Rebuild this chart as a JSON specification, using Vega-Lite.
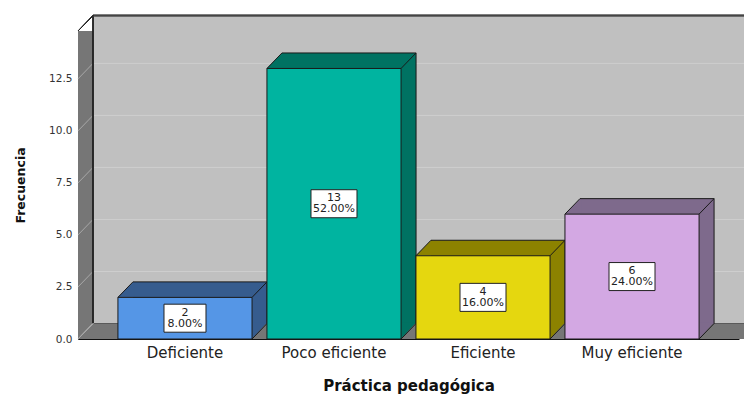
{
  "$schema": "https://vega.github.io/schema/vega-lite/v6.json",
  "width": 661,
  "height": 308,
  "autosize": "none",
  "padding": {"left": 78, "top": 31, "right": 5, "bottom": 57},
  "background": "white",
  "view": {"stroke": null},
  "config": {
    "font": "DejaVu Sans",
    "axisX": {
      "labelFont": "DejaVu Sans", "labelFontSize": 15, "labelColor": "#222222", "labelAngle": 0,
      "labelAlign": "center", "bandPosition": 0.5, "labelPadding": 6, "ticks": false,
      "domainColor": "#111111", "titleFont": "DejaVu Sans", "titleFontSize": 15,
      "titleFontWeight": "bold", "titleColor": "#111111", "titlePadding": 18
    },
    "axisY": {
      "labelFont": "DejaVu Sans", "labelFontSize": 10.5, "labelColor": "#333333", "labelPadding": 6,
      "ticks": false, "grid": false, "domainColor": "#111111",
      "titleFont": "DejaVu Sans", "titleFontSize": 12.5, "titleFontWeight": "bold",
      "titleColor": "#111111", "titlePadding": 21
    }
  },
  "datasets": {
    "practica": [
      {"nivel": "Deficiente", "n": 2, "pct": 8},
      {"nivel": "Poco eficiente", "n": 13, "pct": 52},
      {"nivel": "Eficiente", "n": 4, "pct": 16},
      {"nivel": "Muy eficiente", "n": 6, "pct": 24}
    ],
    "grid": [{"v": 2.5}, {"v": 5}, {"v": 7.5}, {"v": 10}, {"v": 12.5}]
  },
  "data": {"name": "practica"},
  "resolve": {"scale": {"fill": "independent"}},
  "layer": [
    {
      "description": "left wall and floor",
      "mark": {"type": "rect", "fill": "#767676"},
      "encoding": {
        "x": {"value": 0},
        "x2": {"value": {"expr": "width + 20"}},
        "y": {"datum": 14.8, "scale": {"domain": [0, 14.8], "nice": false},
              "axis": {"title": "Frecuencia", "values": [0, 2.5, 5, 7.5, 10, 12.5], "format": ".1f"}},
        "y2": {"datum": 0}
      }
    },
    {
      "description": "back wall",
      "mark": {"type": "rect", "fill": "#c0c0c0", "yOffset": -15.5, "y2Offset": -15.5},
      "encoding": {
        "x": {"value": 15},
        "x2": {"value": {"expr": "width + 20"}},
        "y": {"datum": 14.8},
        "y2": {"datum": 0}
      }
    },
    {
      "description": "corner above the left wall",
      "mark": {"type": "point", "filled": true, "fill": "white", "opacity": 1, "strokeWidth": 0,
               "shape": "M -1 -1 L 1.05 -1 L -1 1.05 Z", "size": 240, "xOffset": 7.5, "yOffset": -8},
      "encoding": {"x": {"value": 0}, "y": {"datum": 14.8}}
    },
    {
      "description": "back wall gridlines",
      "data": {"name": "grid"},
      "mark": {"type": "rule", "stroke": "#cecece", "strokeWidth": 1, "yOffset": -15.5},
      "encoding": {
        "x": {"value": 15},
        "x2": {"value": {"expr": "width + 20"}},
        "y": {"field": "v", "type": "quantitative"}
      }
    },
    {
      "description": "left wall gridlines",
      "data": {"name": "grid"},
      "mark": {"type": "rule", "stroke": "#a8a8a8", "strokeWidth": 1, "y2Offset": -15.5},
      "encoding": {
        "x": {"value": 0},
        "x2": {"value": 15},
        "y": {"field": "v", "type": "quantitative"},
        "y2": {"field": "v"}
      }
    },
    {
      "description": "wall edges",
      "mark": {"type": "rule", "stroke": "#222222", "strokeWidth": 1, "yOffset": -15.5, "y2Offset": -15.5},
      "encoding": {"x": {"value": 15}, "y": {"datum": 14.8}, "y2": {"datum": 0}}
    },
    {
      "mark": {"type": "rule", "stroke": "#444444", "strokeWidth": 1.5, "yOffset": -15.5},
      "encoding": {"x": {"value": 15}, "x2": {"value": {"expr": "width + 20"}}, "y": {"datum": 14.8}}
    },
    {
      "mark": {"type": "rule", "stroke": "#5a5a5a", "strokeWidth": 1, "yOffset": -15.5},
      "encoding": {"x": {"value": 15}, "x2": {"value": {"expr": "width + 20"}}, "y": {"datum": 0}}
    },
    {
      "mark": {"type": "rule", "stroke": "#222222", "strokeWidth": 1, "y2Offset": -15.5},
      "encoding": {"x": {"value": 0}, "x2": {"value": 15}, "y": {"datum": 14.8}, "y2": {"datum": 14.8}}
    },
    {
      "mark": {"type": "rule", "stroke": "#a8a8a8", "strokeWidth": 1, "y2Offset": -15.5},
      "encoding": {"x": {"value": 0}, "x2": {"value": 15}, "y": {"datum": 0}, "y2": {"datum": 0}}
    },
    {
      "description": "bar depth: top and side faces",
      "mark": {"type": "bar", "xOffset": 15, "yOffset": -15.5, "y2Offset": -15.5},
      "encoding": {
        "x": {"field": "nivel", "type": "nominal", "sort": null, "title": "Práctica pedagógica",
              "scale": {"paddingInner": 0.1, "paddingOuter": 0.268}},
        "y": {"field": "n", "type": "quantitative"},
        "y2": {"datum": 0},
        "fill": {"field": "nivel", "type": "nominal", "legend": null,
                 "scale": {"domain": ["Deficiente", "Poco eficiente", "Eficiente", "Muy eficiente"],
                           "range": ["#365c8e", "#007262", "#8c8200", "#7e6a8c"]}}
      }
    },
    {
      "mark": {"type": "point", "filled": true, "opacity": 1, "strokeWidth": 0,
               "shape": "M -1 1 L 1 -1 L 1.15 -1 L 1.15 1 Z", "size": 240, "xOffset": 7.5, "yOffset": -7.75},
      "encoding": {
        "x": {"field": "nivel", "type": "nominal", "sort": null, "bandPosition": 0},
        "y": {"field": "n", "type": "quantitative"},
        "fill": {"field": "nivel", "type": "nominal", "legend": null,
                 "scale": {"domain": ["Deficiente", "Poco eficiente", "Eficiente", "Muy eficiente"],
                           "range": ["#365c8e", "#007262", "#8c8200", "#7e6a8c"]}}
      }
    },
    {
      "mark": {"type": "point", "filled": true, "opacity": 1, "strokeWidth": 0,
               "shape": "M -1 1 L -1 -1.15 L 1 -1.15 Z", "size": 240, "xOffset": 7.5, "yOffset": -7.75},
      "encoding": {
        "x": {"field": "nivel", "type": "nominal", "sort": null, "bandPosition": 1},
        "y": {"datum": 0},
        "fill": {"field": "nivel", "type": "nominal", "legend": null,
                 "scale": {"domain": ["Deficiente", "Poco eficiente", "Eficiente", "Muy eficiente"],
                           "range": ["#365c8e", "#007262", "#8c8200", "#7e6a8c"]}}
      }
    },
    {
      "description": "bar edges in depth",
      "mark": {"type": "rule", "stroke": "#1a1a1a", "strokeWidth": 1, "xOffset": 15, "x2Offset": 15, "yOffset": -15.5},
      "encoding": {
        "x": {"field": "nivel", "type": "nominal", "sort": null, "bandPosition": 0},
        "x2": {"field": "nivel", "bandPosition": 1},
        "y": {"field": "n", "type": "quantitative"}
      }
    },
    {
      "mark": {"type": "rule", "stroke": "#1a1a1a", "strokeWidth": 1, "xOffset": 15, "yOffset": -15.5, "y2Offset": -15.5},
      "encoding": {
        "x": {"field": "nivel", "type": "nominal", "sort": null, "bandPosition": 1},
        "y": {"field": "n", "type": "quantitative"},
        "y2": {"datum": 0}
      }
    },
    {
      "mark": {"type": "rule", "stroke": "#1a1a1a", "strokeWidth": 1, "x2Offset": 15, "y2Offset": -15.5},
      "encoding": {
        "x": {"field": "nivel", "type": "nominal", "sort": null, "bandPosition": 0},
        "x2": {"field": "nivel", "bandPosition": 0},
        "y": {"field": "n", "type": "quantitative"},
        "y2": {"field": "n"}
      }
    },
    {
      "mark": {"type": "rule", "stroke": "#1a1a1a", "strokeWidth": 1, "x2Offset": 15, "y2Offset": -15.5},
      "encoding": {
        "x": {"field": "nivel", "type": "nominal", "sort": null, "bandPosition": 1},
        "x2": {"field": "nivel", "bandPosition": 1},
        "y": {"field": "n", "type": "quantitative"},
        "y2": {"field": "n"}
      }
    },
    {
      "mark": {"type": "rule", "stroke": "#1a1a1a", "strokeWidth": 1, "x2Offset": 15, "y2Offset": -15.5},
      "encoding": {
        "x": {"field": "nivel", "type": "nominal", "sort": null, "bandPosition": 1},
        "x2": {"field": "nivel", "bandPosition": 1},
        "y": {"datum": 0},
        "y2": {"datum": 0}
      }
    },
    {
      "description": "bar front faces",
      "mark": {"type": "bar", "stroke": "#1a1a1a", "strokeWidth": 1},
      "encoding": {
        "x": {"field": "nivel", "type": "nominal", "sort": null},
        "y": {"field": "n", "type": "quantitative"},
        "y2": {"datum": 0},
        "fill": {"field": "nivel", "type": "nominal", "legend": null,
                 "scale": {"domain": ["Deficiente", "Poco eficiente", "Eficiente", "Muy eficiente"],
                           "range": ["#5596e6", "#00b4a0", "#e5d70f", "#d3a8e3"]}}
      }
    },
    {
      "description": "value labels: count and percentage in a white box",
      "transform": [
        {"calculate": "datum.n / 2", "as": "mitad"},
        {"calculate": "[toString(datum.n), format(datum.pct, '.2f') + '%']", "as": "etiqueta"}
      ],
      "layer": [
        {
          "mark": {"type": "point", "filled": true, "fill": "white", "stroke": "#222222", "strokeWidth": 1, "opacity": 1},
          "encoding": {
            "x": {"field": "nivel", "type": "nominal", "sort": null},
            "y": {"field": "mitad", "type": "quantitative"},
            "shape": {"condition": {"test": "datum.pct < 10", "value": "M -1 -0.667 L 1 -0.667 L 1 0.667 L -1 0.667 Z"},
                      "value": "M -1 -0.609 L 1 -0.609 L 1 0.609 L -1 0.609 Z"},
            "size": {"condition": {"test": "datum.pct < 10", "value": 1764}, "value": 2116}
          }
        },
        {
          "mark": {"type": "text", "font": "DejaVu Sans", "fontSize": 11, "color": "#222222",
                   "lineHeight": 11, "baseline": "middle", "align": "center", "dy": -5.5},
          "encoding": {
            "x": {"field": "nivel", "type": "nominal", "sort": null},
            "y": {"field": "mitad", "type": "quantitative"},
            "text": {"field": "etiqueta"}
          }
        }
      ]
    }
  ]
}
